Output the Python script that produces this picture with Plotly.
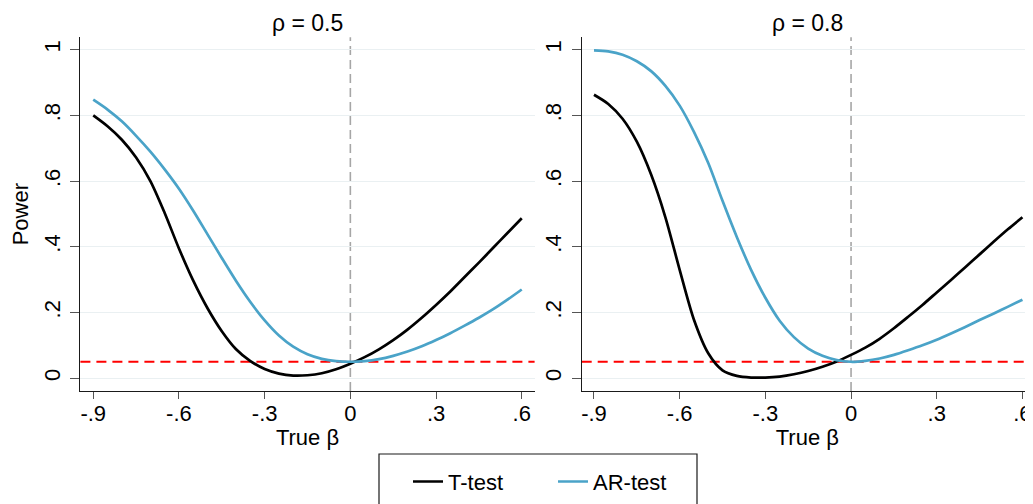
import plotly.graph_objects as go

# 数据
beta = [-0.9, -0.85, -0.8, -0.75, -0.7, -0.65, -0.6, -0.55, -0.5, -0.45, -0.4,
        -0.35, -0.3, -0.25, -0.2, -0.15, -0.1, -0.05, 0.0, 0.05, 0.1, 0.15,
        0.2, 0.25, 0.3, 0.35, 0.4, 0.45, 0.5, 0.55, 0.6]

t_rho05 = [0.80, 0.767, 0.726, 0.672, 0.60, 0.503, 0.395, 0.297, 0.213, 0.143, 0.088,
           0.052, 0.028, 0.014, 0.008, 0.009, 0.015, 0.027, 0.044, 0.064, 0.088, 0.116,
           0.148, 0.184, 0.223, 0.264, 0.308, 0.352, 0.397, 0.442, 0.487]
ar_rho05 = [0.848, 0.818, 0.782, 0.738, 0.69, 0.636, 0.577, 0.51, 0.438, 0.366, 0.296,
            0.232, 0.176, 0.13, 0.096, 0.073, 0.059, 0.052, 0.05, 0.052, 0.058, 0.068,
            0.081, 0.097, 0.116, 0.137, 0.16, 0.184, 0.21, 0.239, 0.27]

t_rho08 = [0.863, 0.835, 0.79, 0.72, 0.62, 0.49, 0.33, 0.178, 0.076, 0.024, 0.007,
           0.002, 0.002, 0.005, 0.012, 0.022, 0.035, 0.051, 0.071, 0.093, 0.12, 0.152,
           0.187, 0.223, 0.261, 0.299, 0.338, 0.377, 0.416, 0.454, 0.49]
ar_rho08 = [0.998, 0.995, 0.985, 0.965, 0.935, 0.89, 0.83, 0.75, 0.655, 0.54, 0.43,
            0.33, 0.245, 0.175, 0.125, 0.09, 0.068, 0.055, 0.05, 0.053, 0.06, 0.071,
            0.085, 0.10, 0.117, 0.136, 0.156, 0.177, 0.197, 0.218, 0.239]

panel_titles = ["ρ = 0.5", "ρ = 0.8"]
x_ticks = [-0.9, -0.6, -0.3, 0, 0.3, 0.6]
x_ticktext = ["-.9", "-.6", "-.3", "0", ".3", ".6"]
y_ticks = [0, 0.2, 0.4, 0.6, 0.8, 1]
y_ticktext = ["0", ".2", ".4", ".6", ".8", "1"]
size_level = 0.05

BLACK = "#000000"
BLUE = "#4aa3c8"
FONT = "Liberation Sans, Arial, sans-serif"

# 页面自带 8px 边距，图本身取 1025x496
W, H = 1025, 496
dom_left = [72.4 / W, 526.6 / W]
dom_right = [573.7 / W, 1.0]
dom_y = [1 - 383 / H, 1 - 29.3 / H]

fig = go.Figure()

for i, (t_vals, ar_vals) in enumerate([(t_rho05, ar_rho05), (t_rho08, ar_rho08)]):
    xa = "x" if i == 0 else "x2"
    ya = "y" if i == 0 else "y2"
    fig.add_trace(go.Scatter(
        x=beta, y=t_vals, mode="lines", name="T-test",
        line=dict(color=BLACK, width=2.7, shape="spline", smoothing=0.8),
        xaxis=xa, yaxis=ya, showlegend=(i == 0),
    ))
    fig.add_trace(go.Scatter(
        x=beta, y=ar_vals, mode="lines", name="AR-test",
        line=dict(color=BLUE, width=2.7, shape="spline", smoothing=0.8),
        xaxis=xa, yaxis=ya, showlegend=(i == 0),
    ))
    # 5% 水平参考线与 β=0 竖线
    fig.add_shape(type="line", xref=f"{xa} domain", yref=ya, x0=0, x1=1,
                  y0=size_level, y1=size_level, layer="below",
                  line=dict(color="#ff0000", width=1.8, dash="10px,6px"))
    fig.add_shape(type="line", xref=xa, yref=f"{ya} domain", x0=0, x1=0,
                  y0=0, y1=1, layer="below",
                  line=dict(color="#a6a6a6", width=1.6, dash="9px,5px"))

axis_common = dict(
    showline=True, linecolor="#1a1a1a", linewidth=1.2,
    ticks="outside", tickcolor="#555555", tickwidth=1.2,
    tickfont=dict(family=FONT, size=22, color="#000000"),
    zeroline=False,
)

x_common = dict(axis_common, range=[-0.945, 0.645], tickvals=x_ticks,
                ticktext=x_ticktext, ticklen=7, showgrid=False,
                ticklabelstandoff=-5,
                title=dict(text="True β", font=dict(family=FONT, size=22, color="#000000"),
                           standoff=0))
y_common = dict(axis_common, range=[-0.039, 1.038], tickvals=y_ticks,
                ticktext=y_ticktext, ticklen=9, tickangle=-90,
                showgrid=True, gridcolor="#eaf0f2", gridwidth=1.4,
                ticklabelstandoff=2, domain=dom_y)

fig.update_layout(
    width=W, height=H,
    margin=dict(l=0, r=0, t=0, b=0),
    paper_bgcolor="white", plot_bgcolor="white",
    font=dict(family=FONT, size=22, color="#000000"),
    xaxis=dict(x_common, domain=dom_left, anchor="y"),
    xaxis2=dict(x_common, domain=dom_right, anchor="y2", range=[-0.943, 0.637]),
    yaxis=dict(y_common, anchor="x",
               title=dict(text="Power", font=dict(family=FONT, size=22, color="#000000"),
                          standoff=6)),
    yaxis2=dict(y_common, anchor="x2"),
    showlegend=True,
    legend=dict(orientation="h", x=400 / W, xanchor="left", y=1 - 473.7 / H,
                yanchor="middle", bgcolor="rgba(0,0,0,0)", borderwidth=0,
                font=dict(family=FONT, size=22, color="#000000"),
                entrywidth=100, entrywidthmode="pixels"),
)

# 面板标题
for dom, txt in zip([dom_left, dom_right], panel_titles):
    fig.add_annotation(x=(dom[0] + dom[1]) / 2, y=1.0, xref="paper", yref="paper",
                       text=txt, showarrow=False, xanchor="center", yanchor="top",
                       font=dict(family=FONT, size=23, color="#000000"))

# 图例外框
fig.add_shape(type="rect", xref="paper", yref="paper",
              x0=371 / W, x1=689 / W, y0=-0.2, y1=1 - 446 / H,
              line=dict(color="#1a1a1a", width=1.2), fillcolor="rgba(0,0,0,0)")

fig.write_html("out.html")
